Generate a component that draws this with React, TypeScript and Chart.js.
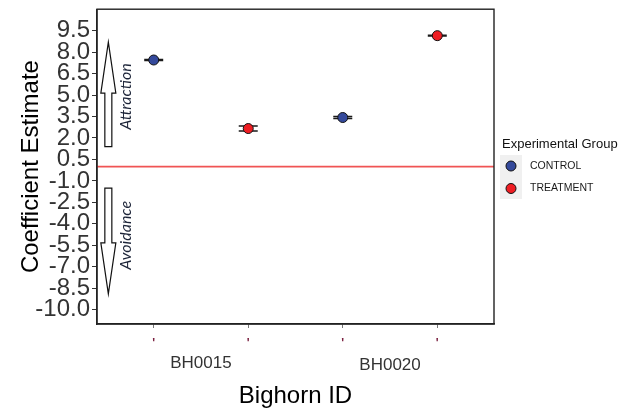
import React, { useEffect, useRef } from "react";
import { Chart, registerables } from "chart.js";

Chart.register(...registerables);

// ---- data ----
const bighornIds = ["BH0015", "BH0020"];
const groups = ["CONTROL", "TREATMENT"];
const controlEstimate = [7.45, 3.43];
const controlLower = [7.42, 3.36];
const controlUpper = [7.48, 3.5];
const treatmentEstimate = [2.66, 9.15];
const treatmentLower = [2.49, 9.12];
const treatmentUpper = [2.83, 9.18];
const xTickPositions = [1, 2, 3, 4];
const xTickLabels = ["'", "'", "'", "'"];
const yTicks = [9.5, 8, 6.5, 5, 3.5, 2, 0.5, -1, -2.5, -4, -5.5, -7, -8.5, -10];
const referenceValue = 0;
const arrowLabels = ["Attraction", "Avoidance"];
const arrowFrom = [1.4, -1.5];
const arrowTo = [8.7, -8.9];
const arrowLabelY = [4.9, -4.8];

// ---- layout / style constants ----
const Y_MIN = -11;
const Y_MAX = 11;
const X_MIN = 0.4;
const X_MAX = 4.6;
const ARROW_X = 0.52;
const ARROW_LABEL_X = 0.7;
const groupColors = ["#34499B", "#EE1D23"];
const FONT = "'Liberation Sans', Arial, sans-serif";

const estimates = [controlEstimate, treatmentEstimate];
const lowers = [controlLower, treatmentLower];
const uppers = [controlUpper, treatmentUpper];

const xPos = (idIndex: number, groupIndex: number) => idIndex * 2 + groupIndex + 1;

const overlayPlugin = {
  id: "overlay",
  beforeDatasetsDraw(chart: any) {
    const { ctx, chartArea: a, scales } = chart;
    const x = scales.x;
    const y = scales.y;
    ctx.save();
    // reference line
    const y0 = y.getPixelForValue(referenceValue);
    ctx.strokeStyle = "#F05454";
    ctx.lineWidth = 1.8;
    ctx.beginPath();
    ctx.moveTo(a.left, y0);
    ctx.lineTo(a.right, y0);
    ctx.stroke();
    // error bars
    ctx.strokeStyle = "#1a1a1a";
    ctx.lineWidth = 1.5;
    groups.forEach((_g, gi) => {
      bighornIds.forEach((_id, i) => {
        const px = x.getPixelForValue(xPos(i, gi));
        const lo = y.getPixelForValue(lowers[gi][i]);
        const hi = y.getPixelForValue(uppers[gi][i]);
        const hw = 9.5;
        ctx.beginPath();
        ctx.moveTo(px - hw, lo);
        ctx.lineTo(px + hw, lo);
        ctx.moveTo(px - hw, hi);
        ctx.lineTo(px + hw, hi);
        ctx.moveTo(px, lo);
        ctx.lineTo(px, hi);
        ctx.stroke();
      });
    });
    ctx.restore();
  },
  afterDraw(chart: any) {
    const { ctx, chartArea: a, scales } = chart;
    const x = scales.x;
    const y = scales.y;
    ctx.save();
    // panel border
    ctx.strokeStyle = "#222";
    ctx.lineWidth = 1.4;
    ctx.strokeRect(a.left, a.top, a.right - a.left, a.bottom - a.top);

    // arrows
    const cx = x.getPixelForValue(ARROW_X);
    arrowLabels.forEach((label, k) => {
      const yb = y.getPixelForValue(arrowFrom[k]);
      const yt = y.getPixelForValue(arrowTo[k]);
      const dir = yt < yb ? 1 : -1;
      const headLen = 51;
      const hh = 7.5;
      const sh = 3.5;
      const yh = yt + dir * headLen;
      ctx.beginPath();
      ctx.moveTo(cx - sh, yb);
      ctx.lineTo(cx - sh, yh);
      ctx.lineTo(cx - hh, yh);
      ctx.lineTo(cx, yt);
      ctx.lineTo(cx + hh, yh);
      ctx.lineTo(cx + sh, yh);
      ctx.lineTo(cx + sh, yb);
      ctx.closePath();
      ctx.fillStyle = "#fff";
      ctx.fill();
      ctx.strokeStyle = "#111";
      ctx.lineWidth = 1.2;
      ctx.stroke();

      // label
      const lx = x.getPixelForValue(ARROW_LABEL_X);
      const ly = y.getPixelForValue(arrowLabelY[k]);
      ctx.save();
      ctx.translate(lx, ly);
      ctx.rotate(-Math.PI / 2);
      ctx.font = "italic 16px Lato, 'Liberation Sans', sans-serif";
      ctx.fillStyle = "#1c2438";
      ctx.textAlign = "center";
      ctx.textBaseline = "middle";
      ctx.fillText(label, 0, 0);
      ctx.restore();
    });

    // bighorn ID labels
    ctx.font = `17px ${FONT}`;
    ctx.fillStyle = "#333";
    ctx.textAlign = "center";
    ctx.textBaseline = "middle";
    bighornIds.forEach((id, i) => {
      const px = x.getPixelForValue((xPos(i, 0) + xPos(i, 1)) / 2);
      ctx.fillText(id, px, a.bottom + 39 + i * 2);
    });

    // legend
    const lx0 = a.right + 8;
    ctx.textAlign = "left";
    ctx.fillStyle = "#111";
    ctx.font = `13px ${FONT}`;
    ctx.fillText("Experimental Group", lx0, 144);
    ctx.fillStyle = "#F0F0F0";
    ctx.fillRect(lx0 - 2, 155, 22, 44);
    groups.forEach((g, gi) => {
      const cy = 166 + gi * 22.5;
      ctx.beginPath();
      ctx.arc(lx0 + 9, cy, 5, 0, Math.PI * 2);
      ctx.fillStyle = groupColors[gi];
      ctx.fill();
      ctx.strokeStyle = "#111";
      ctx.lineWidth = 1;
      ctx.stroke();
      ctx.fillStyle = "#1a1a1a";
      ctx.font = `10.5px ${FONT}`;
      ctx.fillText(g, lx0 + 28, cy);
    });
    ctx.restore();
  },
};

export default function App() {
  const canvasRef = useRef<HTMLCanvasElement | null>(null);

  useEffect(() => {
    const canvas = canvasRef.current;
    if (!canvas) return;
    const chart = new Chart(canvas, {
      type: "scatter",
      data: {
        datasets: groups.map((g, gi) => ({
          label: g,
          data: bighornIds.map((_id, i) => ({ x: xPos(i, gi), y: estimates[gi][i] })),
          backgroundColor: groupColors[gi],
          borderColor: "#111",
          borderWidth: 1,
          pointRadius: 5,
          pointHoverRadius: 5,
        })),
      },
      options: {
        responsive: false,
        animation: false,
        layout: { padding: { top: 9, right: 135, left: 0, bottom: 0 } },
        plugins: {
          legend: { display: false },
          tooltip: { enabled: false },
        },
        scales: {
          x: {
            type: "linear",
            min: X_MIN,
            max: X_MAX,
            afterBuildTicks: (scale: any) => {
              scale.ticks = xTickPositions.map((v) => ({ value: v }));
            },
            afterFit: (scale: any) => {
              scale.height = 87;
            },
            ticks: {
              autoSkip: false,
              maxRotation: 0,
              callback: (_v: any, i: number) => xTickLabels[i],
              font: { family: FONT, size: 12, weight: "bold" },
              color: "#7b2040",
              padding: 8,
            },
            grid: { drawOnChartArea: false, tickLength: 4, color: "#777" },
            border: { display: true, color: "#222", width: 1.4 },
            title: {
              display: true,
              text: "Bighorn ID",
              font: { family: FONT, size: 24 },
              color: "#000",
              padding: { top: 0, bottom: 0 },
            },
          },
          y: {
            type: "linear",
            min: Y_MIN,
            max: Y_MAX,
            afterBuildTicks: (scale: any) => {
              scale.ticks = yTicks.map((v) => ({ value: v }));
            },
            afterFit: (scale: any) => {
              scale.width = 97;
            },
            ticks: {
              autoSkip: false,
              callback: (v: any) => Number(v).toFixed(1),
              font: { family: FONT, size: 24, lineHeight: 0.6 },
              color: "#333",
              padding: 2,
            },
            grid: { drawOnChartArea: false, tickLength: 5, color: "#333" },
            border: { display: true, color: "#222", width: 1.4 },
            title: {
              display: true,
              text: "Coefficient Estimate",
              font: { family: FONT, size: 24 },
              color: "#000",
              padding: { top: 17, bottom: 0 },
            },
          },
        },
      },
      plugins: [overlayPlugin],
    } as any);
    return () => chart.destroy();
  }, []);

  return (
    <canvas
      ref={canvasRef}
      width={629}
      height={411}
      style={{ position: "absolute", left: 0, top: 0, width: 629, height: 411 }}
    />
  );
}
